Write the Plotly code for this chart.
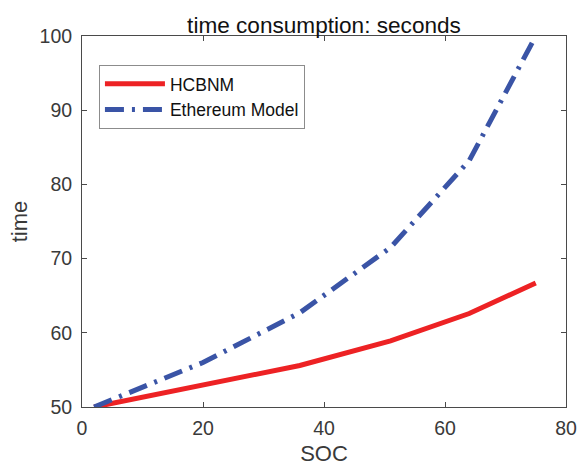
import plotly.graph_objects as go

soc = [2, 20, 36, 51, 64, 75]
hcbnm = [50, 53.0, 55.6, 58.9, 62.6, 66.7]
ethereum = [50, 56.0, 62.7, 71.5, 83.2, 100]

x_ticks = [0, 20, 40, 60, 80]
y_ticks = [50, 60, 70, 80, 90, 100]

FONT = "Liberation Sans, Arial, Helvetica"
GRAY = "#3a3a3a"

fig = go.Figure()
fig.add_trace(go.Scatter(x=soc, y=hcbnm, mode="lines", name="HCBNM",
                         line=dict(color="rgb(237,34,36)", width=5)))
fig.add_trace(go.Scatter(x=soc, y=ethereum, mode="lines", name="Ethereum Model",
                         line=dict(color="rgb(58,84,166)", width=5, dash="19px,8px,3px,8px")))

axis_common = dict(showline=True, linecolor="#4a4a4a", linewidth=1, mirror="allticks",
                   ticks="inside", ticklen=5, tickcolor="#4a4a4a", showgrid=False,
                   zeroline=False, automargin=False,
                   tickfont=dict(family=FONT, size=19.5, color=GRAY))
fig.update_xaxes(range=[0, 80], tickvals=x_ticks, ticklabelstandoff=4,
                 title=dict(text="SOC", font=dict(family=FONT, size=22, color=GRAY), standoff=17),
                 **axis_common)
fig.update_yaxes(range=[50, 100], tickvals=y_ticks, ticklabelstandoff=5,
                 title=dict(text="time", font=dict(family=FONT, size=22, color=GRAY), standoff=5),
                 **axis_common)
fig.update_layout(
    width=579, height=466,
    margin=dict(l=82, r=13, t=36, b=59),
    paper_bgcolor="white", plot_bgcolor="white",
    title=dict(text="time consumption: seconds", x=0.5, xanchor="center", xref="paper",
               y=1 - 25 / 466, yref="container", yanchor="middle",
               font=dict(family=FONT, size=22.6, color="#111111")),
    legend=dict(x=0.035, y=0.922, xanchor="left", yanchor="top",
                bordercolor="#8c8c8c", borderwidth=1, bgcolor="white",
                font=dict(family=FONT, size=17.5, color="#111111"),
                itemwidth=60, tracegroupgap=0),
    showlegend=True,
)
fig.write_html("out.html", config={"displayModeBar": False},
               post_script="document.body.style.margin='0';")
